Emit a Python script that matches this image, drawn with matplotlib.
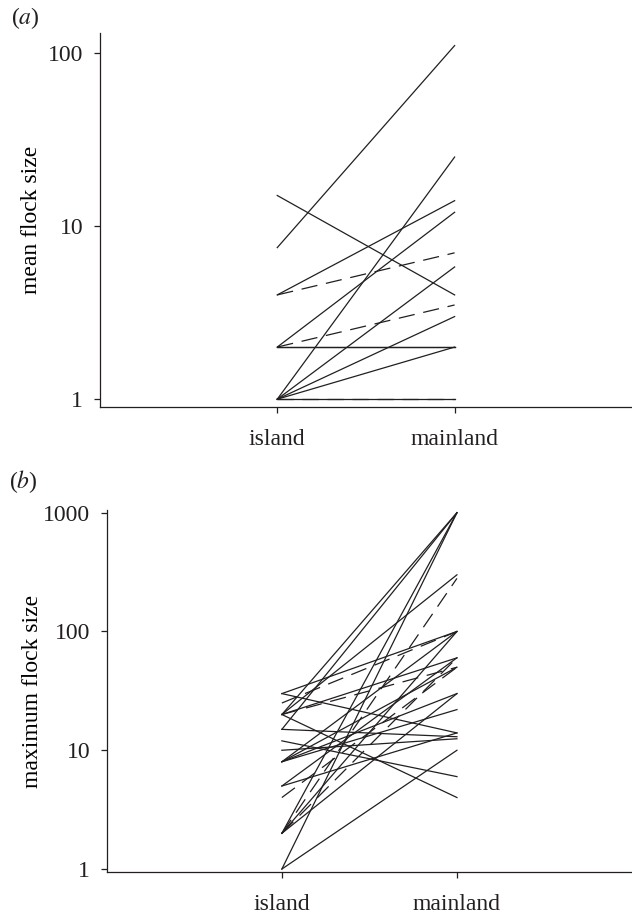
import numpy as np
import matplotlib
matplotlib.use("Agg")
import matplotlib.pyplot as plt

plt.rcParams['font.family'] = ['Liberation Serif', 'DejaVu Serif']
plt.rcParams['mathtext.fontset'] = 'stix'

categories = ['island', 'mainland']

# panel (a): mean flock size, island -> mainland
a_island = [7.5, 15, 4, 4, 2, 2, 2, 2, 1, 1, 1, 1, 1, 1]
a_mainland = [110, 4, 14, 7, 12, 3.5, 2, 2, 25, 5.8, 3, 2, 1, 1]
a_dashed = [0, 0, 0, 1, 0, 1, 0, 0, 0, 0, 0, 0, 0, 1]

# panel (b): maximum flock size, island -> mainland
b_island = [20, 15, 2, 1, 20, 2, 25, 2, 8, 30, 20, 20, 8, 5, 30, 15, 12,
            20, 10, 8, 8, 1, 2, 4, 5, 2]
b_mainland = [1000, 1000, 1000, 1000, 300, 280, 100, 100, 100, 100, 60, 50,
              50, 60, 14, 13, 6, 4, 12.5, 30, 22, 10, 30, 50, 14, 60]
b_dashed = [0, 0, 0, 0, 0, 1, 1, 0, 0, 0, 0, 1, 0, 0, 0, 0, 0,
            0, 0, 0, 0, 0, 0, 1, 0, 1]

FS = 17
INK = '#231f20'


def draw_panel(ax, island, mainland, dashed, ylim, yticks, ylabel, labelpad):
    x = np.arange(len(categories))
    for lo, hi, d in zip(island, mainland, dashed):
        ls = (0, (13, 7)) if d else '-'
        ax.plot(x, [lo, hi], color=INK, lw=0.9, linestyle=ls)
    ax.set_yscale('log')
    ax.set_ylim(*ylim)
    ax.set_xlim(-1, 2)
    ax.set_yticks(yticks)
    ax.set_yticklabels([str(t) for t in yticks])
    ax.minorticks_off()
    ax.set_xticks(x)
    ax.set_xticklabels(categories)
    ax.set_ylabel(ylabel, fontsize=FS, labelpad=labelpad)
    for s in ['top', 'right']:
        ax.spines[s].set_visible(False)
    for s in ['left', 'bottom']:
        ax.spines[s].set_color(INK)
        ax.spines[s].set_linewidth(0.9)
    ax.tick_params(axis='both', labelsize=FS, length=4, width=0.9,
                   color=INK, labelcolor=INK, direction='out')
    ax.tick_params(axis='x', pad=12)
    ax.tick_params(axis='y', pad=8)


fig = plt.figure(figsize=(6.32, 9.17), dpi=100)

ax_a = fig.add_axes([0.158, 0.556, 0.842, 0.408])
draw_panel(ax_a, a_island, a_mainland, a_dashed, (0.9, 130),
           [1, 10, 100], 'mean flock size', 4)

ax_b = fig.add_axes([0.169, 0.049, 0.831, 0.395])
draw_panel(ax_b, b_island, b_mainland, b_dashed, (0.943, 1057),
           [1, 10, 100, 1000], 'maximum flock size', 0)

fig.text(0.017, 0.995, '($a$)', fontsize=FS, va='top', color=INK)
fig.text(0.015, 0.49, '($b$)', fontsize=FS, va='top', color=INK)

fig.savefig('out.png', dpi=100)
